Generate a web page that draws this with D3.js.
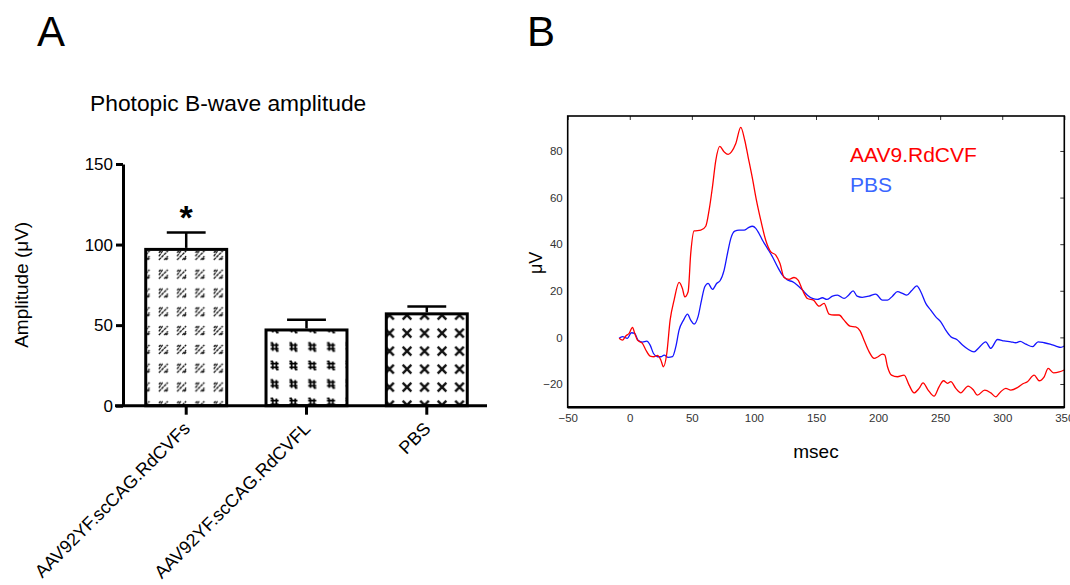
<!DOCTYPE html>
<html>
<head>
<meta charset="utf-8">
<script src="https://cdn.jsdelivr.net/npm/d3@7"></script>
<style>
  html, body { margin: 0; padding: 0; background: #fff; }
  svg { display: block; font-family: "Liberation Sans", Arial, sans-serif; }
</style>
</head>
<body>
<svg id="chart" width="1070" height="585"></svg>
<script>
// ---------- Panel A data ----------
const catsA = ["AAV92YF.scCAG.RdCVFs", "AAV92YF.scCAG.RdCVFL", "PBS"];
const meansA = [97, 47, 57];
const errA = [10.5, 6.3, 4.5];
const sigA = ["*", "", ""];
const yTicksA = [0, 50, 100, 150];

// ---------- Panel B data ----------
const redT = [-8.6,-5.9,-3.2,-0.5,2.2,4,6.2,10.2,12.9,16.4,19.6,22.3,25,27.1,29.8,32.5,35.7,39.7,42.4,44.3,47,49.1,51.8,57.2,61.2,63.9,66.6,69.3,72.5,76,79.2,81.9,85.4,89.4,92.6,95.3,98.8,102,105.5,109.5,113.6,117.6,121,124.3,128.3,132.3,135.6,139.1,143.1,147.9,152.5,156.5,160.5,164.6,168.6,172.6,177.4,182,185.5,188.7,192.8,196.8,200,203.5,205.4,207.6,210.8,215.6,221,225,229,233,236.2,240.3,245.1,249.1,252.7,255.9,258.6,262.6,266.6,272.5,276.8,280,285.9,290.8,294.8,298.8,302.9,306.9,312.3,316.3,320.3,325.7,329.7,333.8,337,341.3,345.9,349.9];
const redV = [-0.4,-1.2,0.6,1.7,4.3,1.7,-1.2,-2.6,-5.4,-8,-8.3,-7.7,-9.7,-12.6,-6.9,7.4,16,23.6,21,17.4,19.6,36,45.7,46,47.7,54.6,64.6,76,82,79.6,78.5,79.6,83.2,90.1,84.6,77.5,68.2,58.9,50.3,41.7,36.7,35.3,31.7,25.7,24.9,25.7,24.6,20.3,16.7,16,13.4,14.6,10,9.6,9.6,7.4,4.8,4.5,2.8,-1.2,-6.2,-9,-8.3,-7.2,-7.6,-12.6,-16.2,-16.9,-16.2,-20.5,-23.8,-21.9,-19.5,-22.6,-25.2,-21.2,-18.6,-19.7,-19,-21.9,-23.8,-20.9,-22.6,-24.8,-22.6,-23.8,-25.5,-23.3,-21.9,-22.6,-21.5,-20,-19,-16.2,-18.6,-16.9,-13.3,-15.2,-14.8,-14];
const blueT = [-8.6,-5.9,-1.9,1.3,4,6.7,10.2,13.7,16.4,19.1,22.3,25,27.7,30.9,34.4,37.1,39.7,43.3,46.5,49.1,51.8,55,57.8,60.4,63.1,66.6,70.1,72.7,76,78.7,81.4,84.6,88,92.1,95.3,98.8,101.5,104.1,106.9,110.9,114.9,119,123,127,131,135,139.1,143.1,147.1,151.1,155.2,158.7,163.3,167.3,172.6,176.2,179.9,183.1,187.2,192.8,198.1,203.5,207.6,211.6,215.6,219.6,223.1,226.9,231.2,234.4,238.4,242.4,246.5,250.5,254.5,258.6,263.4,268,272.5,277.3,281.4,286.7,290.8,296.2,301.5,306.9,310.9,314.4,319,324.4,328.9,333.8,338.6,343.2,347.2,350];
const blueV = [-0.4,0.3,-0.4,2,1.7,-1.2,-2,-1.6,-3.3,-6.9,-8.3,-8.3,-7.6,-8.6,-8.3,-4,3.1,7.4,10,7.4,5.7,8.9,16,21.7,23.2,20.6,23.2,24.3,28.9,36,42.5,45.6,46,46,47,47.7,46.8,44.6,41.7,38.2,34.6,30.3,26.7,24.6,23.9,22.4,20.3,18.1,16.7,16.3,17,16.3,17.7,18.1,16.7,18.1,20,17.7,17.2,17.7,18.6,16,16,17.7,19.6,18.9,18.1,20,22.1,19.6,14.6,11.7,8.8,6.7,3.1,0.3,-0.9,-3.3,-5.1,-6.2,-4.3,-1.9,-4.7,-0.9,-1.5,-1.9,-2.3,-1.7,-2.9,-4,-1.9,-2.3,-2.9,-3.7,-4.3,-3.7];
const xTicksB = [-50, 0, 50, 100, 150, 200, 250, 300, 350];
const yTicksB = [-20, 0, 20, 40, 60, 80];
const seriesNamesB = ["AAV9.RdCVF", "PBS"];

const svg = d3.select("#chart");
const defs = svg.append("defs");

// ================= Panel A =================
svg.append("text").attr("x", 37).attr("y", 46).attr("font-size", 42).text("A");
svg.append("text").attr("x", 90).attr("y", 111).attr("font-size", 22.8).text("Photopic B-wave amplitude");

const xA = d3.scaleBand().domain(catsA).range([126, 487]).paddingInner(0.327).paddingOuter(0.164);
const yA = d3.scaleLinear().domain([0, 150]).range([405.7, 164]);
const bw = xA.bandwidth();

// patterns
const patSpec = [
  { w: 18.3, h: 18.8, dx: 17.6 - 9.15, dy: 6 - 9.4 },
  { w: 18.8, h: 18.5, dx: 8.6 - 9.4, dy: -1.5 - 9.25 },
  { w: 17.5, h: 18.0, dx: 20.7 - 8.75, dy: 1.3 - 9 }
];
catsA.forEach((c, i) => {
  const s = patSpec[i];
  const p = defs.append("pattern").attr("id", "pat" + i)
    .attr("patternUnits", "userSpaceOnUse")
    .attr("x", xA(c) + s.dx).attr("y", yA(meansA[i]) + s.dy)
    .attr("width", s.w).attr("height", s.h);
  p.append("rect").attr("width", s.w).attr("height", s.h).attr("fill", "#fff");
  const cx = s.w / 2, cy = s.h / 2;
  if (i === 0) {
    p.append("path")
      .attr("d", `M${cx-4.5},${cy+4.5}L${cx+4.5},${cy-4.5} M${cx-4.5},${cy+0.8}L${cx-0.8},${cy-4.5} M${cx+0.8},${cy+4.5}L${cx+4.5},${cy+0.8} M${cx-4.5},${cy-2.7}L${cx-2.7},${cy-4.5} M${cx+2.7},${cy+4.5}L${cx+4.5},${cy+2.7}`)
      .attr("stroke", "#111").attr("stroke-width", 1.3).attr("stroke-dasharray", "3 0.6").attr("fill", "none");
  } else if (i === 1) {
    p.append("path")
      .attr("d", `M${cx-4},${cy-1.8}h8 M${cx-4},${cy+1.8}h8 M${cx-1.8},${cy-4}v8 M${cx+1.8},${cy-4}v8 M${cx-4},${cy-4}h2.5 M${cx+1.5},${cy+4}h2.5`)
      .attr("stroke", "#000").attr("stroke-width", 1.8).attr("fill", "none");
  } else {
    p.append("path")
      .attr("d", `M${cx-4.3},${cy-4.3}L${cx+4.3},${cy+4.3} M${cx-4.3},${cy+4.3}L${cx+4.3},${cy-4.3}`)
      .attr("stroke", "#111").attr("stroke-width", 2.4).attr("fill", "none");
  }
});

const gA = svg.append("g");
// bars
gA.selectAll("rect.bar").data(catsA).join("rect")
  .attr("class", "bar")
  .attr("x", c => xA(c)).attr("width", bw)
  .attr("y", (c, i) => yA(meansA[i]))
  .attr("height", (c, i) => yA(0) - yA(meansA[i]))
  .attr("fill", (c, i) => `url(#pat${i})`)
  .attr("stroke", "#000").attr("stroke-width", 3);

// error bars
gA.selectAll("line.err").data(catsA).join("line")
  .attr("x1", c => xA(c) + bw / 2).attr("x2", c => xA(c) + bw / 2)
  .attr("y1", (c, i) => yA(meansA[i]) - 1.5).attr("y2", (c, i) => yA(meansA[i] + errA[i]))
  .attr("stroke", "#000").attr("stroke-width", 2.5);
gA.selectAll("line.cap").data(catsA).join("line")
  .attr("x1", c => xA(c) + bw / 2 - bw * 0.24).attr("x2", c => xA(c) + bw / 2 + bw * 0.24)
  .attr("y1", (c, i) => yA(meansA[i] + errA[i])).attr("y2", (c, i) => yA(meansA[i] + errA[i]))
  .attr("stroke", "#000").attr("stroke-width", 2.5);

// significance
gA.selectAll("text.sig").data(catsA).join("text")
  .attr("x", c => xA(c) + bw / 2)
  .attr("y", (c, i) => yA(meansA[i] + errA[i]) - 3)
  .attr("text-anchor", "middle").attr("font-size", 34).attr("font-weight", "bold")
  .text((c, i) => sigA[i]);

// y axis
const yAxA = gA.append("g").attr("transform", "translate(123,0)")
  .call(d3.axisLeft(yA).tickValues(yTicksA).tickSize(7).tickSizeOuter(0).tickPadding(3));
yAxA.select(".domain").attr("stroke-width", 3);
yAxA.selectAll(".tick line").attr("stroke-width", 3);
yAxA.selectAll(".tick text").attr("font-size", 17).attr("font-family", "Liberation Sans, Arial").attr("fill", "#000");

// x axis
const xAxA = gA.append("g").attr("transform", `translate(0,${yA(0)})`)
  .call(d3.axisBottom(xA).tickSize(9).tickSizeOuter(0).tickFormat(""));
xAxA.select(".domain").remove();
xAxA.selectAll(".tick line").attr("stroke-width", 3);
gA.append("line").attr("x1", 115).attr("x2", xA.range()[1]).attr("y1", yA(0)).attr("y2", yA(0))
  .attr("stroke", "#000").attr("stroke-width", 3);

gA.selectAll("text.xlab").data(catsA).join("text")
  .attr("transform", c => `translate(${xA(c) + bw / 2 + 5},${yA(0) + 24}) rotate(-45)`)
  .attr("text-anchor", "end").attr("font-size", 18).text(c => c);

svg.append("text")
  .attr("transform", `translate(28,${yA(75)}) rotate(-90)`)
  .attr("text-anchor", "middle").attr("font-size", 19).text("Amplitude (μV)");

// ================= Panel B =================
svg.append("text").attr("x", 527).attr("y", 46).attr("font-size", 42).text("B");

const xB = d3.scaleLinear().domain([-50, 350]).range([567.7, 1064.3]);
const yB = d3.scaleLinear().domain([-30, 95]).range([407.3, 116]);
const gB = svg.append("g");

defs.append("clipPath").attr("id", "clipB").append("rect")
  .attr("x", xB(-50)).attr("y", yB(95)).attr("width", xB(350) - xB(-50)).attr("height", yB(-30) - yB(95));

const lineGen = d3.line().x(d => xB(d[0])).y(d => yB(d[1])).curve(d3.curveMonotoneX);
const redData = redT.map((t, i) => [t, redV[i]]);
const blueData = blueT.map((t, i) => [t, blueV[i]]);
const gLines = gB.append("g").attr("clip-path", "url(#clipB)");
gLines.append("path").datum(blueData).attr("d", lineGen).attr("fill", "none").attr("stroke", "#1515ff").attr("stroke-width", 1.3);
gLines.append("path").datum(redData).attr("d", lineGen).attr("fill", "none").attr("stroke", "#ff0000").attr("stroke-width", 1.3);

// axes
const xAxB = gB.append("g").attr("transform", `translate(0,${yB(-30)})`)
  .call(d3.axisBottom(xB).tickValues(xTicksB).tickSize(0).tickPadding(7).tickFormat(d3.format("")));
xAxB.select(".domain").remove();
xAxB.selectAll(".tick text").attr("font-size", 11.5).attr("fill", "#333");
const xAxBTop = gB.append("g").attr("transform", `translate(0,${yB(95)})`)
  .call(d3.axisBottom(xB).tickValues(xTicksB).tickSize(4).tickFormat(""));
xAxBTop.select(".domain").remove();
xAxBTop.selectAll(".tick line").attr("stroke", "#333");

const yAxB = gB.append("g").attr("transform", `translate(${xB(-50)},0)`)
  .call(d3.axisLeft(yB).tickValues(yTicksB).tickSize(0).tickPadding(5).tickFormat(d3.format("")));
yAxB.select(".domain").remove();
yAxB.selectAll(".tick text").attr("font-size", 11.5).attr("fill", "#333");
const yAxBRight = gB.append("g").attr("transform", `translate(${xB(350)},0)`)
  .call(d3.axisLeft(yB).tickValues(yTicksB).tickSize(4).tickFormat(""));
yAxBRight.select(".domain").remove();
yAxBRight.selectAll(".tick line").attr("stroke", "#333");

gB.append("rect")
  .attr("x", xB(-50)).attr("y", yB(95)).attr("width", xB(350) - xB(-50)).attr("height", yB(-30) - yB(95))
  .attr("fill", "none").attr("stroke", "#000").attr("stroke-width", 1.6);
gB.append("line").attr("x1", xB(-50)).attr("x2", xB(350)).attr("y1", yB(-30)).attr("y2", yB(-30))
  .attr("stroke", "#000").attr("stroke-width", 2.4);

svg.append("text").attr("transform", `translate(542,${yB(32)}) rotate(-90)`)
  .attr("text-anchor", "middle").attr("font-size", 18).text("μV");
svg.append("text").attr("x", xB(150)).attr("y", 458)
  .attr("text-anchor", "middle").attr("font-size", 19).text("msec");

// legend
const legColors = ["#ff0000", "#3a66ff"];
svg.selectAll("text.leg").data(seriesNamesB).join("text")
  .attr("x", 850).attr("y", (d, i) => 162 + i * 30)
  .attr("font-size", 21).attr("fill", (d, i) => legColors[i]).text(d => d);
</script>
</body>
</html>
